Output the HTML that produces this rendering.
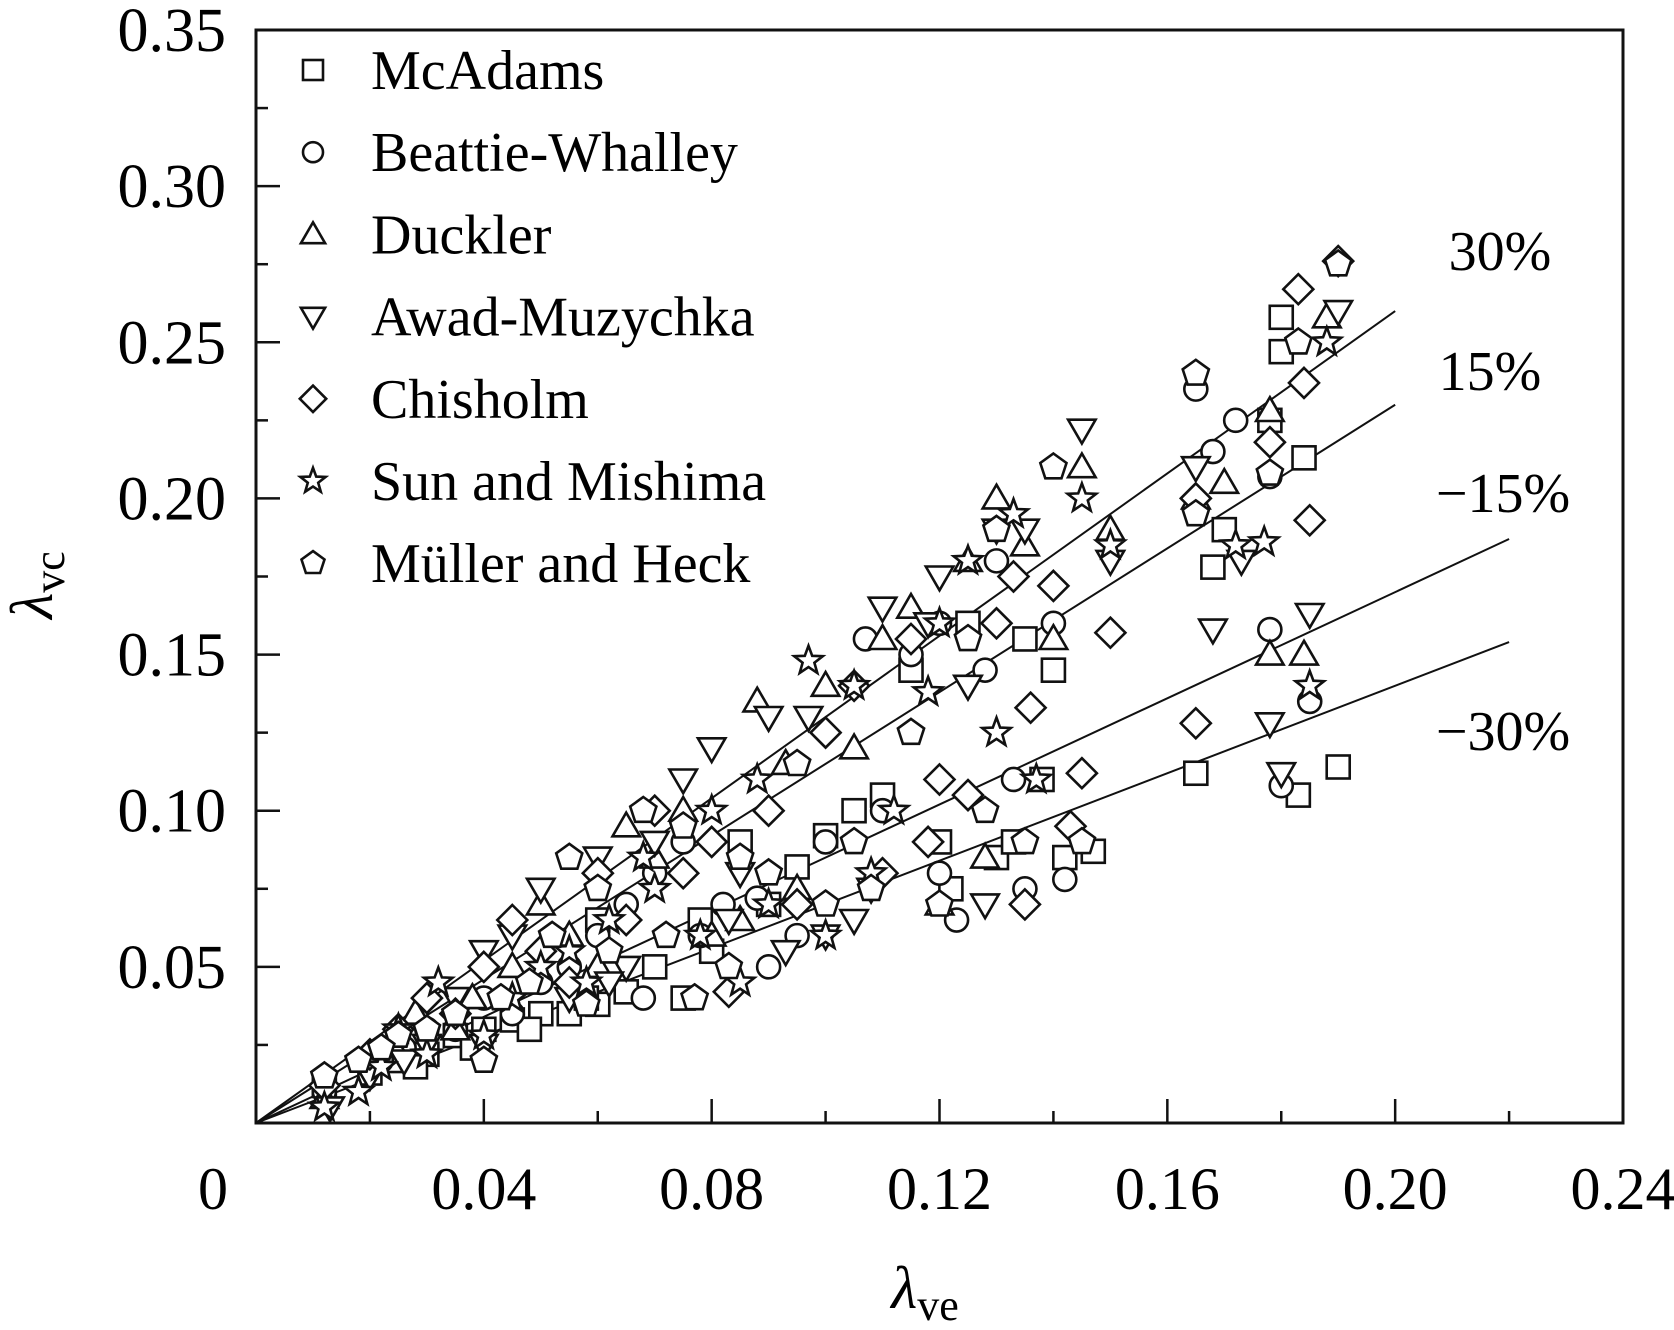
<!DOCTYPE html>
<html><head><meta charset="utf-8"><style>
html,body{margin:0;padding:0;background:#fff}
svg{display:block;font-family:"Liberation Serif",serif}
</style></head><body>
<svg id="chart" width="1674" height="1330" viewBox="0 0 1674 1330" xmlns="http://www.w3.org/2000/svg">
<g id="axes"></g><g id="refs"></g><g id="marks"></g><g id="legend"></g>
</svg>
<script>
const xTicks=[0,0.04,0.08,0.12,0.16,0.20,0.24];
const xTickLabels=["0","0.04","0.08","0.12","0.16","0.20","0.24"];
const yTicks=[0.05,0.10,0.15,0.20,0.25,0.30,0.35];
const yTickLabels=["0.05","0.10","0.15","0.20","0.25","0.30","0.35"];
const seriesNames=["McAdams","Beattie-Whalley","Duckler","Awad-Muzychka","Chisholm","Sun and Mishima","Müller and Heck"];
const refSlopes=[1.3,1.15,0.85,0.7];
const refEnds=[0.2,0.2,0.22,0.22];
const refLabels=["30%","15%","\u221215%","\u221230%"];
const mcadams=[[0.012,0.012],[0.02,0.016],[0.025,0.02],[0.03,0.022],[0.035,0.028],[0.04,0.03],[0.045,0.033],[0.05,0.035],[0.055,0.035],[0.06,0.038],[0.065,0.042],[0.075,0.04],[0.08,0.055],[0.085,0.09],[0.09,0.07],[0.1,0.092],[0.105,0.1],[0.11,0.105],[0.115,0.145],[0.12,0.09],[0.125,0.16],[0.13,0.085],[0.135,0.155],[0.138,0.11],[0.14,0.145],[0.142,0.085],[0.147,0.087],[0.165,0.112],[0.168,0.178],[0.17,0.19],[0.178,0.225],[0.18,0.247],[0.18,0.258],[0.183,0.105],[0.184,0.213],[0.19,0.114],[0.078,0.065],[0.06,0.065],[0.028,0.018],[0.038,0.024],[0.048,0.03],[0.058,0.04],[0.07,0.05],[0.095,0.082],[0.133,0.09],[0.122,0.075]];
const beattie=[[0.012,0.01],[0.022,0.02],[0.03,0.03],[0.04,0.04],[0.05,0.045],[0.06,0.06],[0.068,0.04],[0.075,0.09],[0.082,0.07],[0.09,0.05],[0.095,0.06],[0.1,0.09],[0.107,0.155],[0.115,0.15],[0.12,0.08],[0.123,0.065],[0.128,0.145],[0.13,0.18],[0.133,0.11],[0.135,0.075],[0.14,0.16],[0.142,0.078],[0.165,0.235],[0.168,0.215],[0.172,0.225],[0.178,0.207],[0.178,0.158],[0.18,0.108],[0.185,0.135],[0.045,0.035],[0.07,0.08],[0.026,0.024],[0.035,0.03],[0.055,0.05],[0.065,0.07],[0.078,0.06],[0.088,0.072],[0.11,0.1],[0.12,0.16]];
const duckler=[[0.012,0.008],[0.02,0.02],[0.028,0.035],[0.035,0.03],[0.045,0.05],[0.05,0.07],[0.06,0.05],[0.07,0.085],[0.08,0.06],[0.088,0.135],[0.095,0.075],[0.1,0.14],[0.11,0.155],[0.115,0.165],[0.12,0.07],[0.125,0.18],[0.13,0.2],[0.135,0.185],[0.14,0.155],[0.145,0.21],[0.15,0.19],[0.165,0.2],[0.17,0.205],[0.178,0.15],[0.184,0.15],[0.188,0.258],[0.178,0.228],[0.065,0.095],[0.024,0.025],[0.038,0.04],[0.055,0.06],[0.075,0.1],[0.085,0.065],[0.105,0.12],[0.128,0.085],[0.093,0.115]];
const awad=[[0.013,0.005],[0.02,0.015],[0.03,0.025],[0.04,0.055],[0.05,0.075],[0.055,0.04],[0.06,0.085],[0.065,0.05],[0.07,0.09],[0.08,0.12],[0.085,0.08],[0.09,0.13],[0.093,0.055],[0.1,0.06],[0.105,0.065],[0.11,0.165],[0.12,0.175],[0.125,0.14],[0.128,0.07],[0.13,0.19],[0.135,0.19],[0.145,0.222],[0.15,0.18],[0.165,0.21],[0.168,0.158],[0.173,0.18],[0.178,0.128],[0.18,0.112],[0.185,0.163],[0.19,0.26],[0.04,0.025],[0.026,0.02],[0.035,0.04],[0.045,0.06],[0.062,0.045],[0.075,0.11],[0.083,0.065],[0.097,0.13],[0.108,0.075],[0.118,0.16]];
const chisholm=[[0.012,0.012],[0.02,0.022],[0.03,0.04],[0.04,0.05],[0.045,0.065],[0.05,0.055],[0.06,0.08],[0.07,0.1],[0.075,0.08],[0.083,0.042],[0.09,0.1],[0.1,0.125],[0.11,0.08],[0.118,0.09],[0.12,0.11],[0.125,0.105],[0.13,0.16],[0.133,0.175],[0.135,0.07],[0.136,0.133],[0.145,0.112],[0.14,0.172],[0.15,0.157],[0.165,0.128],[0.165,0.2],[0.178,0.218],[0.183,0.267],[0.184,0.237],[0.185,0.193],[0.19,0.276],[0.143,0.095],[0.025,0.03],[0.035,0.035],[0.055,0.045],[0.065,0.065],[0.08,0.09],[0.095,0.07],[0.105,0.14],[0.115,0.155]];
const sun=[[0.012,0.005],[0.018,0.01],[0.025,0.03],[0.032,0.045],[0.04,0.028],[0.05,0.05],[0.058,0.045],[0.062,0.065],[0.07,0.075],[0.08,0.1],[0.085,0.045],[0.09,0.07],[0.097,0.148],[0.105,0.14],[0.112,0.1],[0.118,0.138],[0.125,0.18],[0.13,0.125],[0.133,0.195],[0.137,0.11],[0.145,0.2],[0.15,0.185],[0.172,0.185],[0.177,0.186],[0.185,0.14],[0.188,0.25],[0.12,0.16],[0.022,0.018],[0.03,0.022],[0.045,0.04],[0.055,0.055],[0.068,0.085],[0.078,0.06],[0.088,0.11],[0.1,0.06],[0.108,0.08]];
const muller=[[0.012,0.015],[0.018,0.02],[0.025,0.028],[0.035,0.035],[0.04,0.02],[0.048,0.045],[0.055,0.085],[0.062,0.055],[0.068,0.1],[0.072,0.06],[0.077,0.04],[0.083,0.05],[0.09,0.08],[0.095,0.115],[0.1,0.07],[0.108,0.075],[0.115,0.125],[0.12,0.07],[0.125,0.155],[0.13,0.19],[0.135,0.09],[0.14,0.21],[0.145,0.09],[0.165,0.24],[0.165,0.195],[0.178,0.208],[0.183,0.25],[0.19,0.275],[0.06,0.075],[0.128,0.1],[0.022,0.024],[0.03,0.03],[0.043,0.04],[0.052,0.06],[0.058,0.038],[0.075,0.095],[0.085,0.085],[0.105,0.09]];
const allSeries=[mcadams,beattie,duckler,awad,chisholm,sun,muller];
const shapes=["square","circle","up","down","diamond","star","pentagon"];

const NS="http://www.w3.org/2000/svg";
const L=256,R=1623,T=30,B=1123;
const sx=v=>L+v/0.24*(R-L);
const sy=v=>B-v/0.35*(B-T);
function el(tag,attrs,parent){const e=document.createElementNS(NS,tag);for(const k in attrs)e.setAttribute(k,attrs[k]);parent.appendChild(e);return e;}
const axes=document.getElementById('axes');
const frame=el('rect',{x:L,y:T,width:R-L,height:B-T,fill:'none',stroke:'#111','stroke-width':3},axes);


xTicks.forEach((v,i)=>{
  if(i>0&&i<xTicks.length-1){const t=el('line',{x1:sx(v),x2:sx(v),y1:B,y2:B-24,stroke:'#111','stroke-width':2.5},axes);
  
  }
  if(i<xTicks.length-1){const m=el('line',{x1:sx(v+0.02),x2:sx(v+0.02),y1:B,y2:B-12,stroke:'#111','stroke-width':2.5},axes);
  
  }
  const tx=el('text',{x:i===0?213:sx(v),y:1209,'text-anchor':'middle','font-size':60},axes);
  tx.textContent=xTickLabels[i];
  
  
});
yTicks.forEach((v,i)=>{
  if(v<0.35){const t=el('line',{x1:L,x2:L+24,y1:sy(v),y2:sy(v),stroke:'#111','stroke-width':2.5},axes);
  
  }
  const m=el('line',{x1:L,x2:L+12,y1:sy(v-0.025),y2:sy(v-0.025),stroke:'#111','stroke-width':2.5},axes);
  
  
  const tx=el('text',{x:226,y:sy(v)+21,'text-anchor':'end','font-size':62},axes);
  tx.textContent=yTickLabels[i];
  
  
});
const xt=el('text',{x:925,y:1308,'font-size':60,'font-style':'italic','text-anchor':'middle'},axes);
xt.innerHTML='λ<tspan font-style="normal" font-size="44" dy="12">ve</tspan>';


const yt=el('text',{x:0,y:0,'font-size':60,'font-style':'italic','text-anchor':'middle',transform:'translate(52,585) rotate(-90)'},axes);
yt.innerHTML='λ<tspan font-style="normal" font-size="44" dy="12">vc</tspan>';



const refs=document.getElementById('refs');
const labPos=[[1500,270],[1490,390],[1503,512],[1503,750]];
refSlopes.forEach((s,i)=>{
  const ln=el('line',{x1:sx(0),y1:sy(0),x2:sx(refEnds[i]),y2:sy(refEnds[i]*s),stroke:'#111','stroke-width':2},refs);
  
  
  const t=el('text',{x:labPos[i][0],y:labPos[i][1],'font-size':56,'text-anchor':'middle'},refs);
  t.textContent=refLabels[i];
  
  
});

function marker(shape,cx,cy,parent,r){
  const st={fill:'#fff',stroke:'#111','stroke-width':2.6};
  let e;
  if(shape==='square')e=el('rect',Object.assign({x:cx-r+1,y:cy-r+1,width:2*r-2,height:2*r-2},st),parent);
  else if(shape==='circle')e=el('circle',Object.assign({cx:cx,cy:cy,r:r-1},st),parent);
  else{
    let pts=[];
    if(shape==='up')pts=[[0,-r*1.1],[r*1.1,r*0.8],[-r*1.1,r*0.8]];
    else if(shape==='down')pts=[[0,r*1.1],[r*1.1,-r*0.8],[-r*1.1,-r*0.8]];
    else if(shape==='diamond')pts=[[0,-r*1.2],[r*1.2,0],[0,r*1.2],[-r*1.2,0]];
    else if(shape==='pentagon'){for(let k=0;k<5;k++){const a=-Math.PI/2+k*2*Math.PI/5;pts.push([r*1.1*Math.cos(a),r*1.1*Math.sin(a)]);}}
    else if(shape==='star'){for(let k=0;k<10;k++){const a=-Math.PI/2+k*Math.PI/5;const rr=k%2?r*0.5:r*1.2;pts.push([rr*Math.cos(a),rr*Math.sin(a)]);}}
    e=el('polygon',Object.assign({points:pts.map(p=>(cx+p[0]).toFixed(1)+','+(cy+p[1]).toFixed(1)).join(' ')},st),parent);
  }
  return e;
}
const marks=document.getElementById('marks');
allSeries.forEach((data,si)=>{
  const g=el('g',{},marks);
  
  
  data.forEach(d=>{
    const m=marker(shapes[si],sx(d[0]),sy(d[1]),g,12.5);
    
    
  });
});
const leg=document.getElementById('legend');
seriesNames.forEach((n,i)=>{
  const y=70+i*82.2;
  const g=el('g',{},leg);
  
  
  marker(shapes[i],313,y,g,11);
  const t=el('text',{x:371,y:y+19,'font-size':56},g);
  t.textContent=n;
  
  
});
</script>
</body></html>
